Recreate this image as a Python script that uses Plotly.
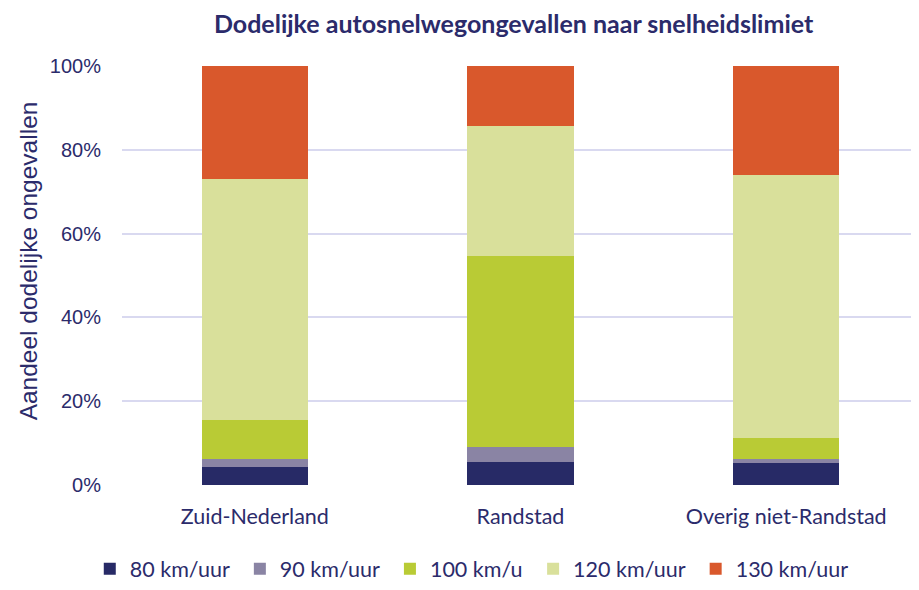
import plotly.graph_objects as go

categories = ["Zuid-Nederland", "Randstad", "Overig niet-Randstad"]
series_names = ["80 km/uur", "90 km/uur", "100 km/u", "120 km/uur", "130 km/uur"]
v80 = [4.3, 5.5, 5.2]
v90 = [1.9, 3.6, 1.0]
v100 = [9.3, 45.5, 5.1]
v120 = [57.6, 31.0, 62.7]
v130 = [26.9, 14.4, 26.0]
colors = ["#272a66", "#8a84a4", "#b9cb35", "#d9e09b", "#d9582c"]

text_color = "#2b2b6b"
pad = "\u00a0"
fig = go.Figure()
for name, vals, col in zip(series_names, [v80, v90, v100, v120, v130], colors):
    fig.add_trace(go.Bar(x=categories, y=[v / 100 for v in vals], name=name + pad,
                         marker=dict(color=col, line=dict(width=0))))

fig.update_layout(
    barmode="stack",
    bargap=0.6,
    width=911, height=582,
    paper_bgcolor="white", plot_bgcolor="white",
    margin=dict(l=114, r=0, t=58, b=105),
    title=dict(text="<b>Dodelijke autosnelwegongevallen naar snelheidslimiet</b>",
               x=0.555, xanchor="center", y=0.972, yanchor="middle",
               font=dict(family="Lato", size=25, color=text_color)),
    font=dict(family="Lato", color=text_color),
    legend=dict(orientation="h", x=0.442, xanchor="center", y=-0.249, yanchor="bottom",
                font=dict(family="Lato", size=21.5, color=text_color),
                traceorder="normal", itemwidth=30),
    xaxis=dict(showgrid=False, showline=False, ticks="",
               tickfont=dict(family="Lato", size=21.5, color=text_color),
               ticklabelstandoff=16),
    yaxis=dict(range=[0, 1], tickformat=".0%", dtick=0.2,
               gridcolor="#d9d9f0", gridwidth=2, zeroline=False, showline=False,
               tickfont=dict(family="Liberation Sans", size=20, color=text_color),
               ticklabelstandoff=20),
    annotations=[dict(text="Aandeel dodelijke ongevallen", textangle=-90,
                      xref="paper", yref="paper", x=-0.118, y=0.536,
                      xanchor="center", yanchor="middle", showarrow=False,
                      font=dict(family="Liberation Sans", size=24.5, color=text_color))],
)
fig.write_html("out.html")
